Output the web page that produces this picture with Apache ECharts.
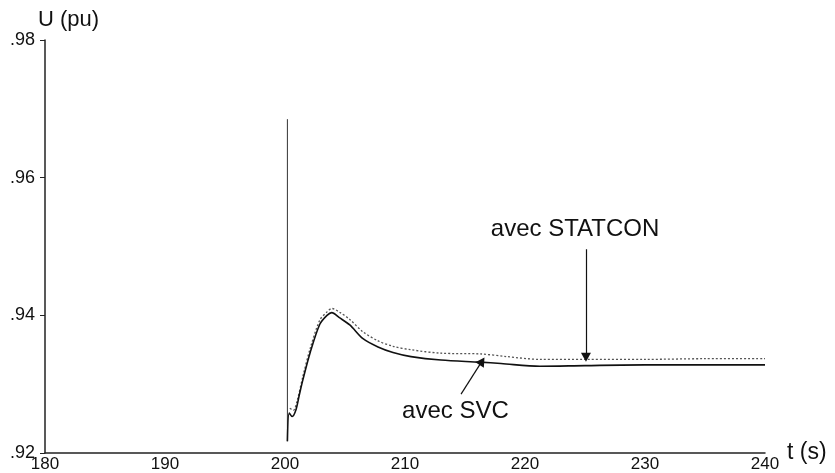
<!DOCTYPE html>
<html><head><meta charset="utf-8">
<script src="https://cdn.jsdelivr.net/npm/echarts@6/dist/echarts.min.js"></script>
<style>html,body{margin:0;padding:0;background:#fff}#c{width:835px;height:473px}</style>
</head><body><div id="c"></div>
<script>
// x ticks (s) and y ticks (pu)
const xTicks = [180, 190, 200, 210, 220, 230, 240];
const yTicks = ['.92', '.94', '.96', '.98'];

// disturbance spike at t≈200
const spikeT = [200.2, 200.2];
const spikeU = [0.9685, 0.9217];

// avec SVC (solid)
const svcT = [200.2, 200.35, 200.6, 200.9, 201.2, 201.5, 202.1, 202.9, 203.5, 203.9, 204.5, 205.4, 206.5, 207.75, 209, 210.5, 213, 216.25, 218, 221.25, 225, 230, 235, 240];
const svcU = [0.9217, 0.9258, 0.9253, 0.9262, 0.9285, 0.9307, 0.9346, 0.9387, 0.9400, 0.9404, 0.9397, 0.9386, 0.9366, 0.9354, 0.9346, 0.9340, 0.9335, 0.9332, 0.9330, 0.9326, 0.9327, 0.9328, 0.9328, 0.9328];

// avec STATCON (dotted)
const stcT = [200.4, 200.7, 201.0, 201.5, 202.1, 202.9, 203.5, 203.9, 204.6, 205.4, 206.5, 207.75, 209, 210.5, 213, 216.25, 218.5, 221.25, 225, 230, 235, 240];
const stcU = [0.9265, 0.9262, 0.9275, 0.9312, 0.9352, 0.9393, 0.9405, 0.9410, 0.9404, 0.9394, 0.9376, 0.9363, 0.9355, 0.9350, 0.9345, 0.9344, 0.9340, 0.9336, 0.9336, 0.9336, 0.9337, 0.9337];

// annotations (data coordinates)
const labelStatcon = {text: 'avec STATCON', t: 224.17, u: 0.9525};
const labelSvc = {text: 'avec SVC', t: 214.2, u: 0.9261};
const arrowStatcon = [[225.08, 0.9496], [225.08, 0.9339]];
const arrowSvc = [[214.67, 0.92856], [216.42, 0.93334]];

const zip = (a, b) => a.map((v, i) => [v, b[i]]);
const FONT = 'Liberation Sans, Arial, sans-serif';

const chart = echarts.init(document.getElementById('c'));
chart.setOption({
  animation: false,
  backgroundColor: '#fff',
  grid: {left: 45, right: 70, top: 40, bottom: 19},
  xAxis: {
    type: 'value', min: 180, max: 240, interval: 10,
    name: 't (s)', nameLocation: 'end', nameGap: 8,
    nameTextStyle: {fontFamily: FONT, fontSize: 23, color: '#111', verticalAlign: 'middle', align: 'left', padding: [0, 0, 0, 14]},
    axisLine: {lineStyle: {color: '#222', width: 1.5}},
    axisTick: {show: false},
    splitLine: {show: false},
    axisLabel: {fontFamily: FONT, fontSize: 17, color: '#111', margin: 3,
      formatter: v => { const i = xTicks.indexOf(Math.round(v)); return i >= 0 ? String(xTicks[i]) : ''; }}
  },
  yAxis: {
    type: 'value', min: 0.92, max: 0.98, interval: 0.02,
    name: 'U (pu)', nameLocation: 'end', nameGap: 14,
    nameTextStyle: {fontFamily: FONT, fontSize: 22, color: '#111', align: 'left', verticalAlign: 'middle', padding: [0, 0, 0, -7]},
    axisLine: {show: true, lineStyle: {color: '#222', width: 1.5}},
    axisTick: {show: true, length: 5, lineStyle: {color: '#222'}},
    splitLine: {show: false},
    axisLabel: {fontFamily: FONT, fontSize: 18, color: '#111', margin: 10,
      formatter: v => { const i = Math.round((v - 0.92) / 0.02); return yTicks[i] || ''; }}
  },
  series: [
    {type: 'line', data: zip(spikeT, spikeU), symbol: 'none', lineStyle: {color: '#333', width: 1}, z: 2},
    {type: 'line', name: 'avec STATCON', data: zip(stcT, stcU), symbol: 'none', smooth: 0.3,
      lineStyle: {color: '#555', width: 1.3, type: [2, 2]}, z: 3,
      markLine: {silent: true, symbol: ['none', 'triangle'], symbolSize: [10, 9], label: {show: false},
        lineStyle: {color: '#111', width: 1.2, type: 'solid'},
        data: [[{coord: arrowStatcon[0]}, {coord: arrowStatcon[1]}], [{coord: arrowSvc[0]}, {coord: arrowSvc[1]}]]}},
    {type: 'line', name: 'avec SVC', data: zip(svcT, svcU), symbol: 'none', smooth: 0.3,
      lineStyle: {color: '#111', width: 1.6}, z: 4}
  ]
});

function placeLabels() {
  const els = [labelStatcon, labelSvc].map(l => {
    const p = chart.convertToPixel({gridIndex: 0}, [l.t, l.u]);
    return {type: 'text', x: p[0], y: p[1],
      style: {text: l.text, fontFamily: FONT, fontSize: 24, fill: '#111', align: 'center', verticalAlign: 'middle'}};
  });
  chart.setOption({graphic: els});
}
placeLabels();
</script></body></html>
